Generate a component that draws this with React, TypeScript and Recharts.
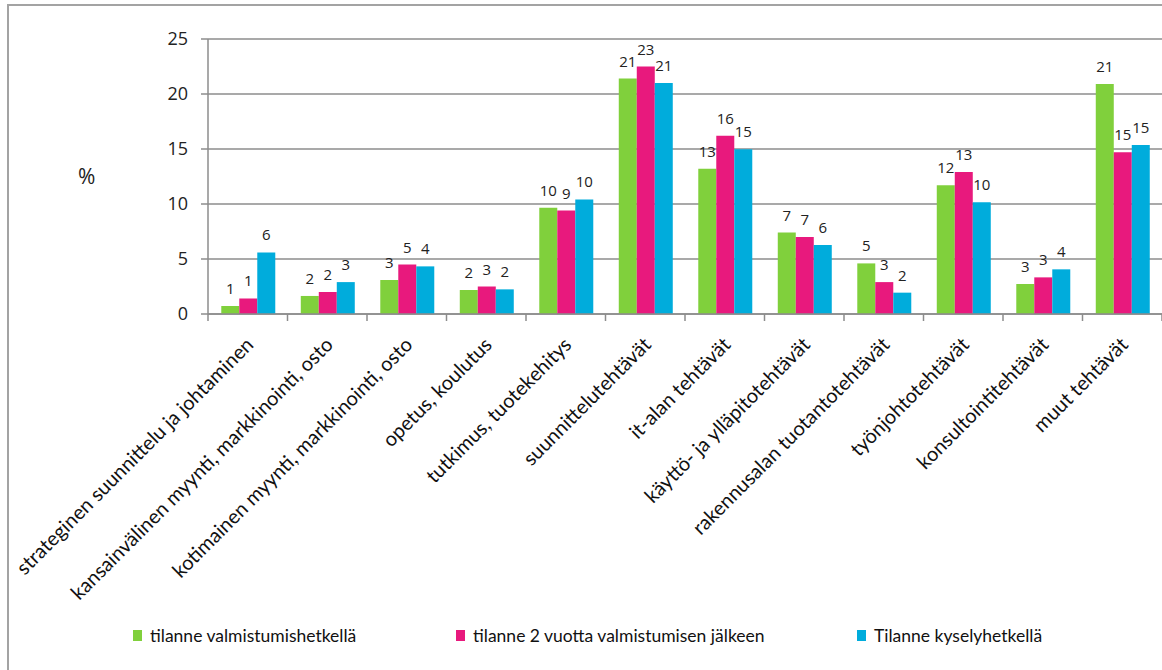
import React from 'react';
import { BarChart, Bar, XAxis, YAxis, CartesianGrid, Legend, LabelList } from 'recharts';

const categories = [
  'strateginen suunnittelu ja johtaminen',
  'kansainvälinen myynti, markkinointi, osto',
  'kotimainen myynti, markkinointi, osto',
  'opetus, koulutus',
  'tutkimus, tuotekehitys',
  'suunnittelutehtävät',
  'it-alan tehtävät',
  'käyttö- ja ylläpitotehtävät',
  'rakennusalan tuotantotehtävät',
  'työnjohtotehtävät',
  'konsultointitehtävät',
  'muut tehtävät',
];

const valmistumishetkella = [0.73, 1.64, 3.09, 2.18, 9.67, 21.4, 13.2, 7.4, 4.6, 11.7, 2.73, 20.9];
const kaksiVuottaJalkeen = [1.42, 2.0, 4.5, 2.5, 9.4, 22.5, 16.2, 7.0, 2.9, 12.9, 3.33, 14.7];
const kyselyhetkella = [5.6, 2.9, 4.33, 2.24, 10.42, 21.0, 14.97, 6.27, 1.94, 10.15, 4.06, 15.36];

const yTicks = [0, 5, 10, 15, 20, 25];

const seriesNames = [
  'tilanne valmistumishetkellä',
  'tilanne 2 vuotta valmistumisen jälkeen',
  'Tilanne kyselyhetkellä',
];
const colors = ['#80D03C', '#E8197D', '#00ACDC'];

const data = categories.map((c, i) => ({
  name: c,
  a: valmistumishetkella[i],
  b: kaksiVuottaJalkeen[i],
  c: kyselyhetkella[i],
}));

const AXIS = '#8c8c8c';

const CategoryTick = (props: any) => {
  const { x, y, payload, index, width, visibleTicksCount } = props;
  const n = visibleTicksCount || categories.length;
  const bw = width && n ? width / n : 79.5;
  const last = index === n - 1;
  return (
    <g>
      <line x1={x - bw / 2} y1={y} x2={x - bw / 2} y2={y + 7} stroke={AXIS} strokeWidth={1.5} />
      {last && <line x1={x + bw / 2} y1={y} x2={x + bw / 2} y2={y + 7} stroke={AXIS} strokeWidth={1.5} />}
      <g transform={`translate(${x + 7},${y + 32})`}>
        <text
          transform="rotate(-45)"
          textAnchor="end"
          fill="#111"
          fontSize={20}
          fontFamily="Lato, 'Open Sans', sans-serif"
        >
          {payload.value}
        </text>
      </g>
    </g>
  );
};

const LegendContent = () => {
  const lefts = [133, 456, 857];
  return (
    <div style={{ position: 'relative', width: 1162, height: 24 }}>
      {seriesNames.map((s, i) => (
        <div
          key={s}
          style={{
            position: 'absolute',
            left: lefts[i],
            top: 0,
            display: 'flex',
            alignItems: 'center',
            fontFamily: "Lato, 'Open Sans', sans-serif",
            fontSize: 17.5,
            color: '#111',
            whiteSpace: 'nowrap',
          }}
        >
          <span style={{ display: 'inline-block', width: 9, height: 11, background: colors[i], marginRight: 8 }} />
          {s}
        </div>
      ))}
    </div>
  );
};

const labelFmt = (v: any) => Math.round(Number(v));

export default function App() {
  return (
    <div style={{ position: 'absolute', left: 0, top: 0, width: 1162, height: 670, background: '#fff', overflow: 'hidden' }}>
      <div
        style={{
          position: 'absolute',
          left: 7,
          top: 4,
          width: 1155,
          height: 666,
          boxSizing: 'border-box',
          borderTop: '2px solid #a3a3a3',
          borderLeft: '2px solid #a3a3a3',
        }}
      />
      <div style={{ position: 'absolute', left: 0, top: 0 }}>
        <BarChart
          width={1162}
          height={670}
          data={data}
          margin={{ top: 39, right: 0, left: 0, bottom: 56 }}
          barCategoryGap="16.7%"
          barGap={0}
        >
          <CartesianGrid vertical={false} stroke={AXIS} strokeWidth={1.5} />
          <XAxis
            dataKey="name"
            interval={0}
            height={300}
            tickSize={0}
            tickMargin={0}
            tickLine={false}
            axisLine={{ stroke: AXIS, strokeWidth: 1.5 }}
            tick={<CategoryTick />}
          />
          <YAxis
            width={208}
            domain={[0, 25]}
            ticks={yTicks}
            interval={0}
            tickSize={7}
            tickMargin={13}
            axisLine={{ stroke: AXIS, strokeWidth: 1.5 }}
            tickLine={{ stroke: AXIS, strokeWidth: 1.5 }}
            tick={{ fill: '#222', fontSize: 18, fontFamily: "'Open Sans', sans-serif" }}
            label={{ value: '%', position: 'insideLeft', offset: 78, fill: '#222', fontSize: 21, fontFamily: "'Open Sans', sans-serif" }}
          />
          <Legend
            verticalAlign="middle"
            align="center"
            layout="horizontal"
            content={<LegendContent />}
            wrapperStyle={{ top: 625, left: 0, width: 1162 }}
          />
          {(['a', 'b', 'c'] as const).map((k, i) => (
            <Bar key={k} dataKey={k} name={seriesNames[i]} fill={colors[i]} isAnimationActive={false}>
              <LabelList
                dataKey={k}
                position="top"
                offset={12}
                formatter={labelFmt}
                fill="#222"
                fontSize={15}
                fontFamily="'Open Sans', sans-serif"
              />
            </Bar>
          ))}
        </BarChart>
      </div>
    </div>
  );
}
